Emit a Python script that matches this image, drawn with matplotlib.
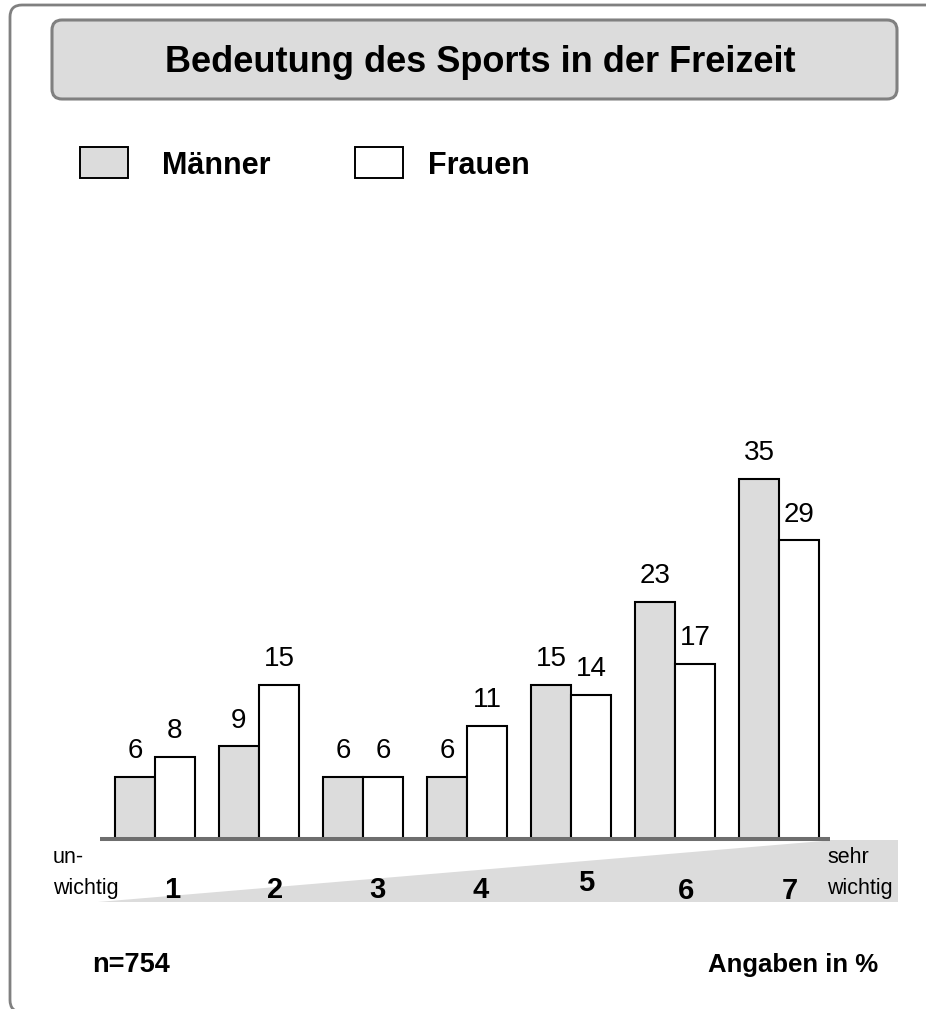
import matplotlib
matplotlib.use("Agg")
import matplotlib.pyplot as plt
from matplotlib.patches import FancyBboxPatch, Polygon, Rectangle
from matplotlib import transforms
import numpy as np

# ---- data ----
categories = ["1", "2", "3", "4", "5", "6", "7"]
maenner = [6, 9, 6, 6, 15, 23, 35]
frauen = [8, 15, 6, 11, 14, 17, 29]
series_names = ["Männer", "Frauen"]
title = "Bedeutung des Sports in der Freizeit"
left_label = ["un-", "wichtig"]
right_label = ["sehr", "wichtig"]
n_text = "n=754"
unit_text = "Angaben in %"

# ---- style ----
FONT = "Liberation Sans"
GRAY = "#dcdcdc"
FRAME = "#808080"
W, H = 926, 1009
plt.rcParams["font.family"] = [FONT, "DejaVu Sans"]

fig = plt.figure(figsize=(W / 100, H / 100), dpi=100)
bg = fig.add_axes([0, 0, 1, 1])
bg.set_xlim(0, W)
bg.set_ylim(0, H)
bg.axis("off")


def Y(y):
    return H - y


# outer frame (extends beyond right and bottom edges)
bg.add_patch(FancyBboxPatch((10, Y(1012)), 1000, 1007, boxstyle="round,pad=0,rounding_size=12",
                            fc="none", ec=FRAME, lw=2, zorder=1, clip_on=False))
# title box
bg.add_patch(FancyBboxPatch((52, Y(99)), 845, 79, boxstyle="round,pad=0,rounding_size=10",
                            fc=GRAY, ec=FRAME, lw=2.2, zorder=2))
bg.text(480, Y(72), title, ha="center", va="baseline", fontsize=26, fontweight="bold", zorder=3)

# legend
bg.add_patch(Rectangle((80, Y(178)), 48, 31, fc=GRAY, ec="black", lw=1.4, zorder=3))
bg.text(162, Y(174), series_names[0], ha="left", va="baseline", fontsize=22, fontweight="bold")
bg.add_patch(Rectangle((355, Y(178)), 48, 31, fc="white", ec="black", lw=1.4, zorder=3))
bg.text(428, Y(174), series_names[1], ha="left", va="baseline", fontsize=22, fontweight="bold")

# scale wedge
bg.add_patch(Polygon([(98, Y(902)), (823, Y(841)), (823, Y(840)), (898, Y(840)), (898, Y(902))],
                     closed=True, fc=GRAY, ec="none", zorder=1))
bg.text(53, Y(863), left_label[0], ha="left", va="baseline", fontsize=15.5)
bg.text(53, Y(894), left_label[1], ha="left", va="baseline", fontsize=15.5)
bg.text(827, Y(863), right_label[0], ha="left", va="baseline", fontsize=15.5)
bg.text(827, Y(894), right_label[1], ha="left", va="baseline", fontsize=15.5)

bg.text(92, Y(972), n_text, ha="left", va="baseline", fontsize=19.5, fontweight="bold")
bg.text(878, Y(972), unit_text, ha="right", va="baseline", fontsize=18.5, fontweight="bold")

# ---- bar axes ----
px_per_unit = 10.3
ax_left, ax_right, base_y, top_y = 100, 830, 839, 420
ax = fig.add_axes([ax_left / W, Y(base_y) / H, (ax_right - ax_left) / W, (base_y - top_y) / H])
ax.patch.set_alpha(0)
group_px = 104.0
x0_px = 155.0
ax.set_xlim((ax_left - x0_px) / group_px, (ax_right - x0_px) / group_px)
ax.set_ylim(0, (base_y - top_y) / px_per_unit)
for s in ax.spines.values():
    s.set_visible(False)
ax.set_xticks([])
ax.set_yticks([])

x = np.arange(len(categories))
bw = 40 / group_px
b1 = ax.bar(x - bw / 2, maenner, width=bw, color=GRAY, edgecolor="black", linewidth=1.5, zorder=2)
b2 = ax.bar(x + bw / 2, frauen, width=bw, color="white", edgecolor="black", linewidth=1.5, zorder=2)
for bars, vals in ((b1, maenner), (b2, frauen)):
    for r, v in zip(bars, vals):
        ax.annotate(str(v), (r.get_x() + r.get_width() / 2, r.get_height()),
                    xytext=(0, 13.5), textcoords="offset points", ha="center", va="baseline",
                    fontsize=20, annotation_clip=False)
ax.axhline(0, color="#6e6e6e", lw=2.9, zorder=3, clip_on=False, solid_capstyle="butt")

# category numbers below the axis
num_dx_px = [17, 16, 14, 14, 15, 11, 11]
num_base = [898, 898, 898, 898, 891, 899, 899]
trans = transforms.blended_transform_factory(ax.transData, bg.transData)
for i, c in enumerate(categories):
    ax.text(x[i] + num_dx_px[i] / group_px, Y(num_base[i]), c, transform=trans,
            ha="center", va="baseline", fontsize=21, fontweight="bold", clip_on=False)

fig.savefig("out.png", dpi=100)
